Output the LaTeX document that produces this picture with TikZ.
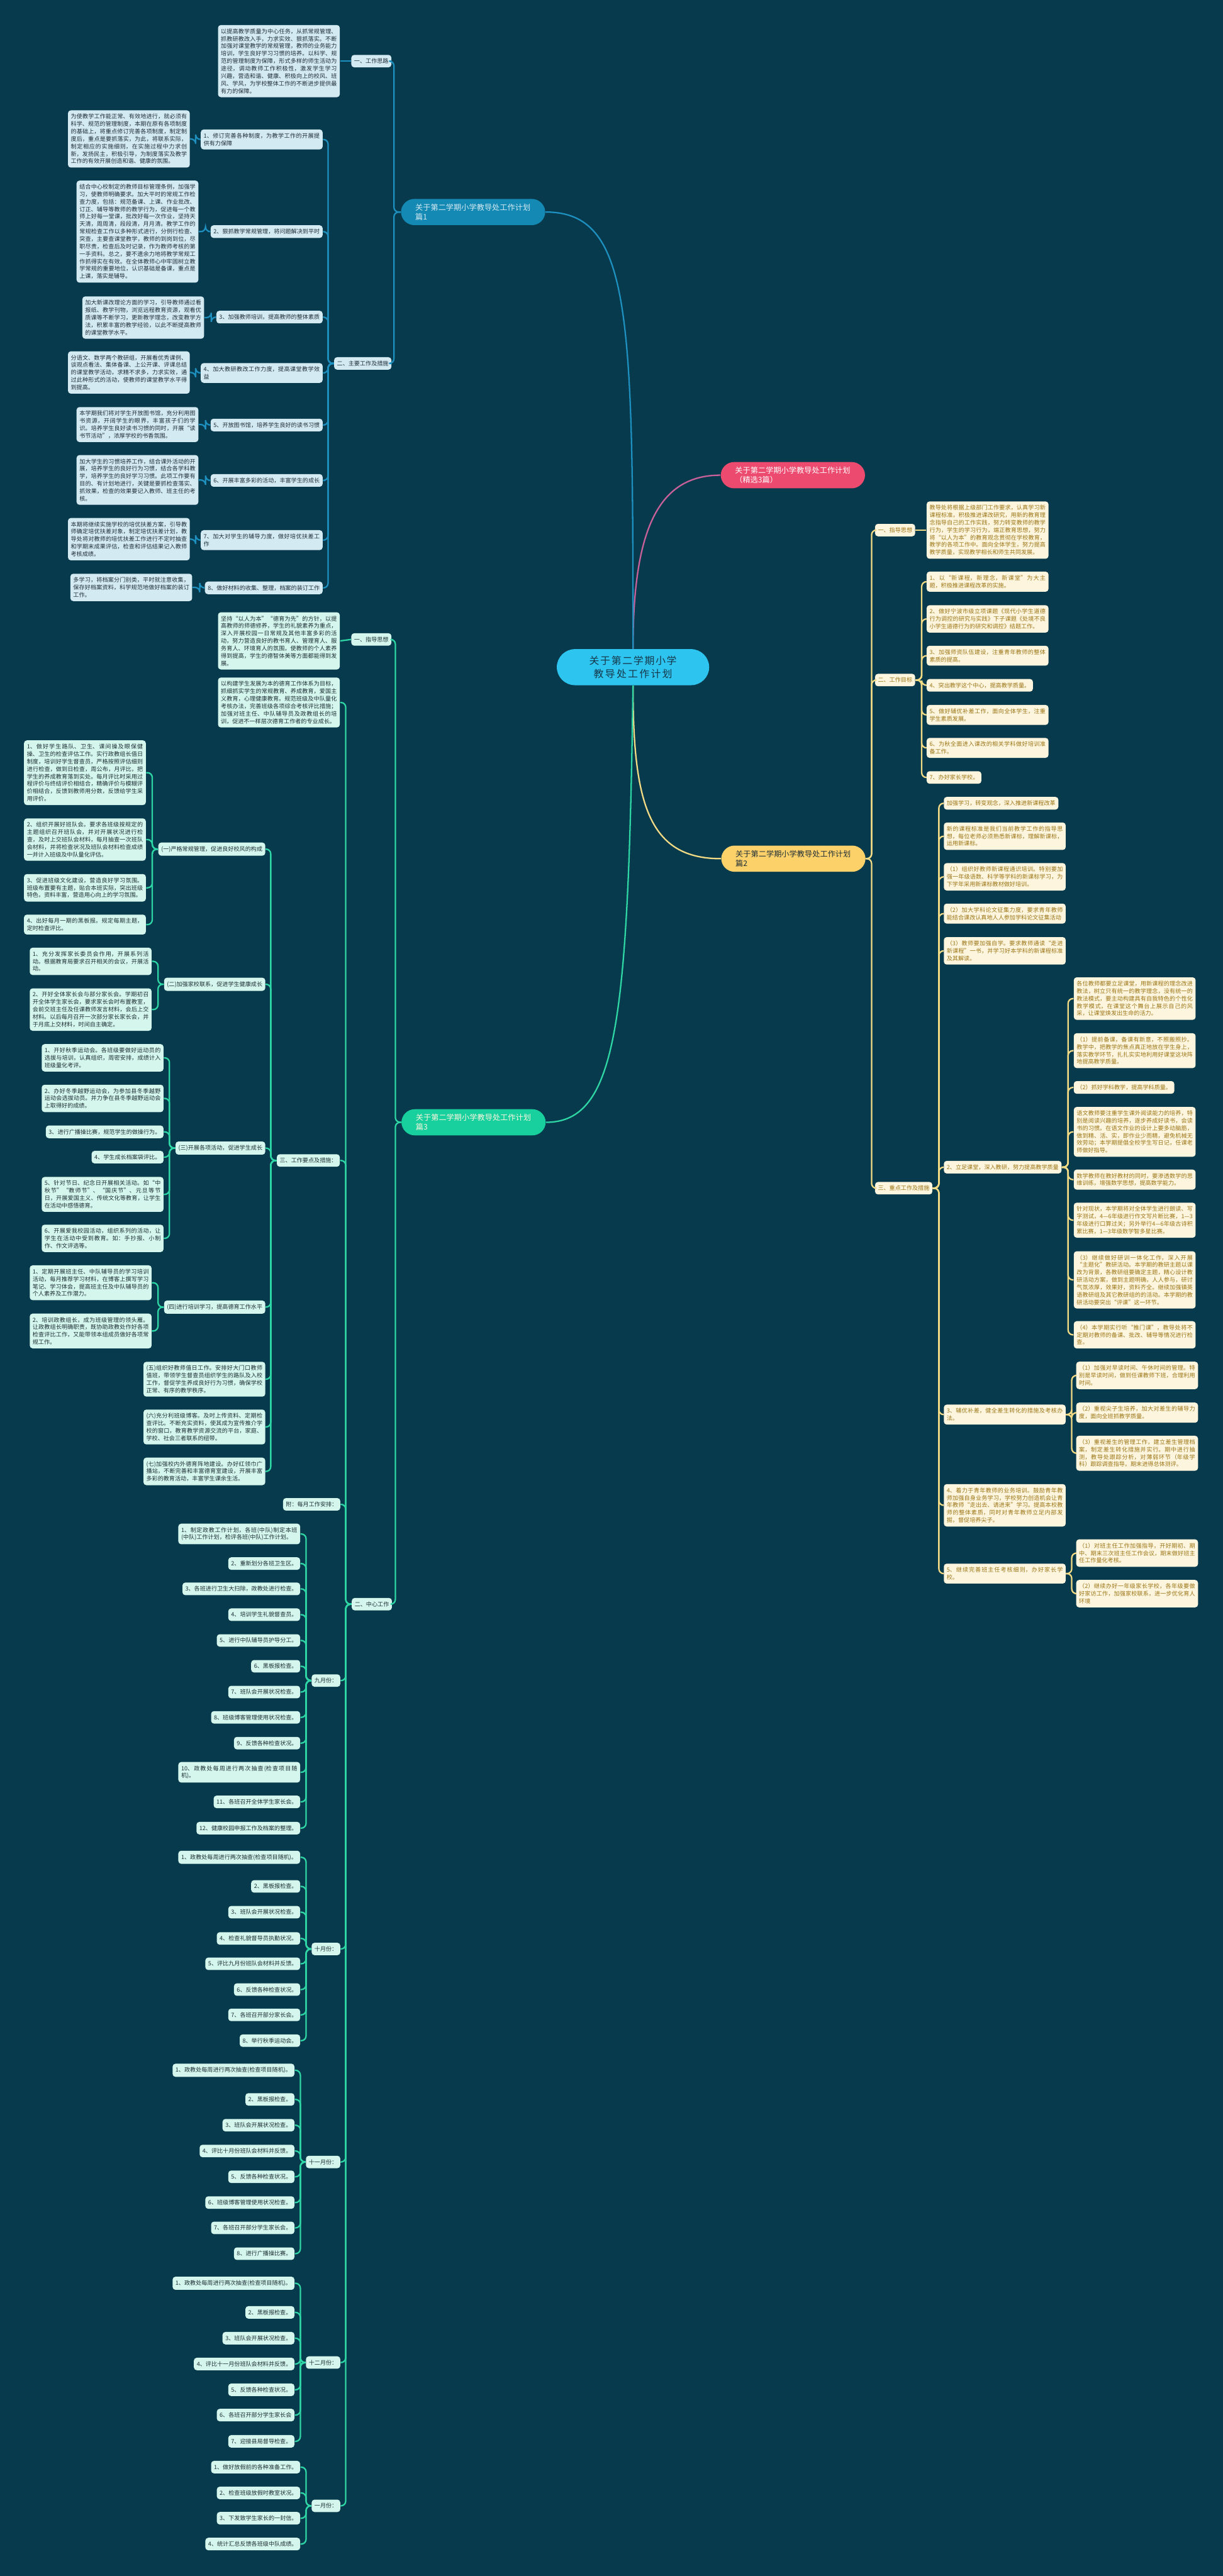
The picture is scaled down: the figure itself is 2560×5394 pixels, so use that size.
\documentclass[tikz,border=0pt]{standalone}
\usepackage{fontspec}
\setmainfont{Noto Sans CJK SC}
\XeTeXlinebreaklocale "zh"
\XeTeXlinebreakskip = 0pt plus 1pt

\definecolor{bgc}{HTML}{073A4C}
\definecolor{rootc}{HTML}{2EC4F0}
\definecolor{roottxt}{HTML}{17384A}
\definecolor{pinkc}{HTML}{EC4A6E}
\definecolor{pinkline}{HTML}{C8609A}
\definecolor{bluec}{HTML}{1489B4}
\definecolor{blueline}{HTML}{1E90BF}
\definecolor{bluebox}{HTML}{D4EAF2}
\definecolor{yelc}{HTML}{FDD16A}
\definecolor{yelline}{HTML}{F3DB85}
\definecolor{yelbox}{HTML}{FDF5DE}
\definecolor{yeltxt}{HTML}{9C7616}
\definecolor{grnc}{HTML}{17D09E}
\definecolor{grnline}{HTML}{2ED6A5}
\definecolor{grnbox}{HTML}{D4F6EC}
\definecolor{boxtxt}{HTML}{1E2E36}

\newcommand\fsmall{\fontsize{3.41pt}{4.44pt}\selectfont}
\newcommand\fmid{\fontsize{4.55pt}{5.69pt}\selectfont}
\newcommand\fbig{\fontsize{5.97pt}{7.97pt}\selectfont}

\tikzset{
  leafbox/.style={rounded corners=0.6mm, inner xsep=0.6mm, inner ysep=0.75mm, font=\fsmall, text=boxtxt},
  para/.style={text width=24.3mm, align=justify},
  bbox/.style={leafbox, fill=bluebox},
  ybox/.style={leafbox, fill=yelbox, text=yeltxt},
  gbox/.style={leafbox, fill=grnbox},
  topic/.style={rounded corners=2.8mm, text width=24.2mm, inner xsep=3mm, inner ysep=1mm, font=\fmid, align=left},
  lnk/.style={draw=#1, line width=0.3mm, rounded corners=1mm},
}

\begin{document}
\begin{tikzpicture}[x=0.1mm,y=-0.1mm]
  \useasboundingbox (0,0) rectangle (2560,5394);
  \fill[bgc] (0,0) rectangle (2560,5394);

  % centre and the four topics
  \node[fill=rootc, text=roottxt, rounded corners=3.8mm, text width=23.5mm, inner xsep=4.2mm, inner ysep=1.4mm, align=center, font=\fbig] (root) at (1325,1397) {关于第二学期小学教导处工作计划};
  \node[topic, fill=pinkc, text=white, anchor=west] (pink) at (1508,995) {关于第二学期小学教导处工作计划（精选3篇）};
  \node[topic, fill=bluec, text=bluebox, anchor=east] (p1) at (1142,444) {关于第二学期小学教导处工作计划篇1};
  \node[topic, fill=yelc, text=boxtxt, anchor=west] (p2) at (1509,1798) {关于第二学期小学教导处工作计划篇2};
  \node[topic, fill=grnc, text=yelbox, anchor=east] (p3) at (1143,2350) {关于第二学期小学教导处工作计划篇3};

  \draw[lnk=pinkline] (root.north) .. controls +(0,-250) and +(-130,0) .. (pink.west);
  \draw[lnk=blueline] (root.north) .. controls +(0,-700) and +(180,0) .. (p1.east);
  \draw[lnk=yelline] (root.south) .. controls +(0,250) and +(-150,0) .. (p2.west);
  \draw[lnk=grnline] (root.south) .. controls +(-10,700) and +(150,0) .. (p3.east);

  % ---------- 篇1 ----------
  \node[bbox, anchor=east] (a1) at (820,128) {一、工作思路};
  \node[bbox, para, anchor=east] (a1t) at (712,128) {以提高教学质量为中心任务，从抓常规管理、抓教研教改入手，力求实效、狠抓落实。不断加强对课堂教学的常规管理，教师的业务能力培训，学生良好学习习惯的培养。以科学、规范的管理制度为保障，形式多样的师生活动为途径，调动教师工作积极性，激发学生学习兴趣，营造和谐、健康、积极向上的校风、班风、学风，为学校整体工作的不断进步提供最有力的保障。};
  \node[bbox, anchor=east] (a2) at (820,761) {二、主要工作及措施};

  \node[bbox, para, anchor=east] (b1) at (676,292) {1、修订完善各种制度，为教学工作的开展提供有力保障};
  \node[bbox, anchor=east] (b2) at (676,485) {2、狠抓教学常规管理，将问题解决到平时};
  \node[bbox, anchor=east] (b3) at (676,664) {3、加强教师培训，提高教师的整体素质};
  \node[bbox, para, anchor=east] (b4) at (676,781) {4、加大教研教改工作力度，提高课堂教学效益};
  \node[bbox, anchor=east] (b5) at (676,890) {5、开放图书馆，培养学生良好的读书习惯};
  \node[bbox, anchor=east] (b6) at (676,1006) {6、开展丰富多彩的活动，丰富学生的成长};
  \node[bbox, para, anchor=east] (b7) at (676,1131) {7、加大对学生的辅导力度，做好培优扶差工作};
  \node[bbox, anchor=east] (b8) at (676,1231) {8、做好材料的收集、整理，档案的装订工作};

  \node[bbox, para, anchor=east] (t1) at (398,291) {为使教学工作能正常、有效地进行，就必须有科学、规范的管理制度，本期在原有各项制度的基础上，将重点修订完善各项制度，制定制度后，重点是要抓落实，为此，将联系实际，制定相应的实施细则，在实施过程中力求创新，发扬民主，积极引导，为制度落实及教学工作的有效开展创造和谐、健康的氛围。};
  \node[bbox, para, anchor=east] (t2) at (416,485) {结合中心校制定的教师目标管理条例，加强学习，使教师明确要求。加大平时的常规工作检查力度，包括：规范备课、上课、作业批改、订正、辅导等教师的教学行为，促进每一个教师上好每一堂课，批改好每一次作业，坚持天天清，周周清，段段清，月月清。教学工作的常规检查工作以多种形式进行，分例行检查、突查，主要查课堂教学，教师的到岗到位，尽职尽责，检查后及时记录，作为教师考核的第一手资料。总之，要不遗余力地将教学常规工作抓得实在有效。在全体教师心中牢固树立教学常规的重要地位，认识基础是备课，重点是上课，落实是辅导。};
  \node[bbox, para, anchor=east] (t3) at (428,665) {加大新课改理论方面的学习，引导教师通过看报纸、教学刊物，浏览远程教育资源，观看优质课等不断学习，更新教学理念，改变教学方法，积累丰富的教学经验，以此不断提高教师的课堂教学水平。};
  \node[bbox, para, anchor=east] (t4) at (398,780) {分语文、数学两个教研组，开展看优秀课例、谈观点看法、集体备课、上公开课、评课总结的课堂教学活动，求精不求多，力求实效，通过此种形式的活动，使教师的课堂教学水平得到提高。};
  \node[bbox, para, anchor=east] (t5) at (416,889) {本学期我们将对学生开放图书馆，充分利用图书资源，开阔学生的眼界，丰富孩子们的学识。培养学生良好读书习惯的同时，开展“读书节活动”，浓厚学校的书香氛围。};
  \node[bbox, para, anchor=east] (t6) at (416,1005) {加大学生的习惯培养工作，结合课外活动的开展，培养学生的良好行为习惯，结合各学科教学，培养学生的良好学习习惯。此项工作要有目的、有计划地进行，关键是要抓检查落实、抓效果，检查的效果要记入教师、班主任的考核。};
  \node[bbox, para, anchor=east] (t7) at (398,1129) {本期将继续实施学校的培优扶差方案，引导教师确定培优扶差对象，制定培优扶差计划，教导处将对教师的培优扶差工作进行不定时抽查和学期末成果评估，检查和评估结果记入教师考核成绩。};
  \node[bbox, para, anchor=east] (t8) at (403,1230) {多学习，将档案分门别类，平时就注意收集，保存好档案资料，科学规范地做好档案的装订工作。};

  \foreach \n in {a1,a2}
    \draw[lnk=blueline] (p1.west) -- ++(-14,0) |- (\n.east);
  \draw[lnk=blueline] (a1.west) -- (a1t.east);
  \foreach \i in {1,...,8} {
    \draw[lnk=blueline] (a2.west) -- ++(-12,0) |- (b\i.east);
    \draw[lnk=blueline] (b\i.west) -- ++(-10,0) |- (t\i.east);
  }

  % ---------- 篇2 ----------
  \node[ybox, anchor=west] (c1) at (1831,1110) {一、指导思想};
  \node[ybox, para, anchor=west] (c1t) at (1939,1110) {教导处将根据上级部门工作要求，认真学习新课程标准，积极推进课改研究，用新的教育理念指导自己的工作实践，努力转变教师的教学行为，学生的学习行为，端正教育思想，努力将“以人为本”的教育观念贯彻在学校教育，教学的各项工作中。面向全体学生，努力提高教学质量，实现教学相长和师生共同发展。};
  \node[ybox, anchor=west] (c2) at (1831,1424) {二、工作目标};
  \node[ybox, anchor=west] (c3) at (1831,2488) {三、重点工作及措施};

  \node[ybox, para, anchor=west] (d1) at (1939,1218) {1、以“新课程，新理念，新课堂”为大主题，积极推进课程改革的实施。};
  \node[ybox, para, anchor=west] (d2) at (1939,1296) {2、做好宁波市级立项课题《现代小学生道德行为调控的研究与实践》下子课题《处境不良小学生道德行为的研究和调控》结题工作。};
  \node[ybox, para, anchor=west] (d3) at (1939,1373) {3、加强师资队伍建设，注重青年教师的整体素质的提高。};
  \node[ybox, anchor=west] (d4) at (1939,1435) {4、突出教学这个中心，提高教学质量。};
  \node[ybox, para, anchor=west] (d5) at (1939,1497) {5、做好辅优补差工作，面向全体学生，注重学生素质发展。};
  \node[ybox, para, anchor=west] (d6) at (1939,1566) {6、为秋全面进入课改的相关学科做好培训准备工作。};
  \node[ybox, anchor=west] (d7) at (1939,1628) {7、办好家长学校。};

  \node[ybox, anchor=west] (e1) at (1975,1682) {加强学习，转变观念，深入推进新课程改革};
  \node[ybox, para, anchor=west] (e2) at (1975,1751) {新的课程标准是我们当前教学工作的指导思想，每位老师必须熟悉新课标，理解新课标，运用新课标。};
  \node[ybox, para, anchor=west] (e3) at (1975,1836) {（1）组织好教师新课程通识培训。特别要加强一年级语数、科学等学科的新课标学习，为下学年采用新课标教材做好培训。};
  \node[ybox, para, anchor=west] (e4) at (1975,1913) {（2）加大学科论文征集力度，要求青年教师能结合课改认真地人人参加学科论文征集活动};
  \node[ybox, para, anchor=west] (e5) at (1975,1991) {（3）教师要加强自学。要求教师通读“走进新课程”一书，并学习好本学科的新课程标准及其解读。};
  \node[ybox, anchor=west] (e6) at (1975,2444) {2、立足课堂，深入教研，努力提高教学质量};
  \node[ybox, para, anchor=west] (e7) at (1975,2962) {3、辅优补差，健全差生转化的措施及考核办法。};
  \node[ybox, para, anchor=west] (e8) at (1975,3152) {4、着力于青年教师的业务培训。鼓励青年教师加强自身业务学习，学校努力创造机会让青年教师“走出去、请进来”学习。提高本校教师的整体素质，同时对青年教师立足内部发掘，督促培养尖子。};
  \node[ybox, para, anchor=west] (e9) at (1975,3295) {5、继续完善班主任考核细则，办好家长学校。};

  \node[ybox, para, anchor=west] (f1) at (2247,2091) {各位教师都要立足课堂，用新课程的理念改进教法，树立只有统一的教学理念，没有统一的教法模式，要主动构建具有自我特色的个性化教学模式，在课堂这个舞台上展示自己的风采，让课堂焕发出生命的活力。};
  \node[ybox, para, anchor=west] (f2) at (2247,2200) {（1）提前备课，备课有新意，不照搬照抄。教学中，把教学的焦点真正地放在学生身上，落实教学环节，扎扎实实地利用好课堂这块阵地提高教学质量。};
  \node[ybox, anchor=west] (f3) at (2247,2277) {（2）抓好学科教学，提高学科质量。};
  \node[ybox, para, anchor=west] (f4) at (2247,2370) {语文教师要注重学生课外阅读能力的培养，特别是阅读兴趣的培养，逐步养成好读书，会读书的习惯。在语文作业的设计上要多动脑筋，做到精、活、实，即作业少而精，避免机械无效劳动；本学期提倡全校学生写日记，任课老师做好指导。};
  \node[ybox, para, anchor=west] (f5) at (2247,2470) {数学教师在教好教材的同时，要渗透数学的思维训练，增强数学思想，提高数学能力。};
  \node[ybox, para, anchor=west] (f6) at (2247,2555) {针对现状，本学期将对全体学生进行朗读、写字测试，4—6年级进行作文写片断比赛，1—3年级进行口算过关；另外举行4—6年级古诗积累比赛，1—3年级数学智多星比赛。};
  \node[ybox, para, anchor=west] (f7) at (2247,2680) {（3）继续做好研训一体化工作，深入开展“主题化”教研活动。本学期的教研主题以课改为背景，各教研组要确定主题，精心设计教研活动方案，做到主题明确，人人参与，研讨气氛浓厚，效果好，资料齐全。继续加强镇英语教研组及其它教研组的的活动。本学期的教研活动要突出“评课”这一环节。};
  \node[ybox, para, anchor=west] (f8) at (2247,2795) {（4）本学期实行听“推门课”，教导处将不定期对教师的备课、批改、辅导等情况进行检查。};

  \node[ybox, para, anchor=west] (g1) at (2252,2880) {（1）加强对早读时间、午休时间的管理。特别是早读时间，做到任课教师下班，合理利用时间。};
  \node[ybox, para, anchor=west] (g2) at (2252,2958) {（2）重视尖子生培养，加大对差生的辅导力度，面向全班抓教学质量。};
  \node[ybox, para, anchor=west] (g3) at (2252,3043) {（3）重视差生的管理工作，建立差生管理档案，制定差生转化措施并实行。期中进行抽测，教导处跟踪分析，对薄弱环节（年级学科）跟踪调查指导。期末进得总体测评。};
  \node[ybox, para, anchor=west] (h1) at (2252,3252) {（1）对班主任工作加强指导，开好期初、期中、期末三次班主任工作会议，期末做好班主任工作量化考核。};
  \node[ybox, para, anchor=west] (h2) at (2252,3337) {（2）继续办好一年级家长学校，各年级要做好家访工作，加强家校联系，进一步优化育人环境};

  \foreach \n in {c1,c2,c3}
    \draw[lnk=yelline] (p2.east) -- ++(12,0) |- (\n.west);
  \draw[lnk=yelline] (c1.east) -- (c1t.west);
  \foreach \i in {1,...,7}
    \draw[lnk=yelline] (c2.east) -- ++(13,0) |- (d\i.west);
  \foreach \i in {1,...,9}
    \draw[lnk=yelline] (c3.east) -- ++(13,0) |- (e\i.west);
  \foreach \i in {1,...,8}
    \draw[lnk=yelline] (e6.east) -- ++(13,0) |- (f\i.west);
  \foreach \i in {1,2,3}
    \draw[lnk=yelline] (e7.east) -- ++(12,0) |- (g\i.west);
  \foreach \i in {1,2}
    \draw[lnk=yelline] (e9.east) -- ++(12,0) |- (h\i.west);

  % ---------- 篇3 ----------
  \node[gbox, anchor=east] (s1) at (820,1339) {一、指导思想};
  \node[gbox, para, anchor=east] (s1t) at (712,1342) {坚持“以人为本”“德育为先”的方针，以提高教师的师德修养，学生的礼貌素养为重点，深入开展校园一日常规及其他丰富多彩的活动，努力营造良好的教书育人、管理育人、服务育人、环境育人的氛围，使教师的个人素养得到提高，学生的德智体美等方面都能得到发展。};
  \node[gbox, anchor=east] (s2) at (821,3359) {二、中心工作};

  \node[gbox, para, anchor=east] (k0) at (712,1471) {以构建学生发展为本的德育工作体系为目标，抓细抓实学生的常规教育、养成教育，爱国主义教育，心理健康教育。规范班级及中队量化考核办法，完善班级各项综合考核评比措施；加强对班主任、中队辅导员及政教组长的培训，促进不一样层次德育工作者的专业成长。};
  \node[gbox, anchor=east] (k1) at (712,2430) {三、工作要点及措施：};
  \node[gbox, anchor=east] (k2) at (713,3150) {附：每月工作安排：};
  \node[gbox, anchor=east] (k3) at (713,3519) {九月份：};
  \node[gbox, anchor=east] (k4) at (713,4081) {十月份：};
  \node[gbox, anchor=east] (k5) at (713,4527) {十一月份：};
  \node[gbox, anchor=east] (k6) at (713,4947) {十二月份：};
  \node[gbox, anchor=east] (k7) at (713,5247) {一月份：};

  \node[gbox, anchor=east] (m1) at (556,1778) {(一)严格常规管理，促进良好校风的构成};
  \node[gbox, anchor=east] (m2) at (556,2061) {(二)加强家校联系，促进学生健康成长};
  \node[gbox, anchor=east] (m3) at (556,2404) {(三)开展各项活动，促进学生成长};
  \node[gbox, anchor=east] (m4) at (556,2737) {(四)进行培训学习，提高德育工作水平};
  \node[gbox, para, anchor=east] (m5) at (556,2888) {(五)组织好教师值日工作。安排好大门口教师值班，带领学生督查员组织学生的路队及入校工作，督促学生养成良好行为习惯，确保学校正常、有序的教学秩序。};
  \node[gbox, para, anchor=east] (m6) at (556,2988) {(六)充分利班级博客。及时上传资料、定期检查评比。不断充实资料，使其成为宣传推介学校的窗口，教育教学资源交流的平台，家庭、学校、社会三者联系的纽带。};
  \node[gbox, para, anchor=east] (m7) at (556,3081) {(七)加强校内外德育阵地建设。办好红领巾广播站，不断完善和丰富德育室建设，开展丰富多彩的教育活动，丰富学生课余生活。};

  \node[gbox, para, anchor=east] (m1a) at (306,1618) {1、做好学生路队、卫生、课间操及眼保健操、卫生的检查评估工作。实行政教组长值日制度，培训好学生督查员，严格按照评估细则进行检查，做到日检查，周公布，月评比，把学生的养成教育落到实处。每月评比时采用过程评价与终结评价相结合，精确评价与模糊评价相结合，反馈到教师用分数，反馈给学生采用评价。};
  \node[gbox, para, anchor=east] (m1b) at (306,1758) {2、组织开展好班队会。要求各班级按规定的主题组织召开班队会，并对开展状况进行检查，及时上交班队会材料，每月抽查一次班队会材料，并将检查状况及班队会材料检查成绩一并计入班级及中队量化评估。};
  \node[gbox, para, anchor=east] (m1c) at (306,1859) {3、促进班级文化建设，营造良好学习氛围。班级布置要有主题，贴合本班实际，突出班级特色，资料丰富，营造用心向上的学习氛围。};
  \node[gbox, para, anchor=east] (m1d) at (306,1936) {4、出好每月一期的黑板报。规定每期主题，定时检查评比。};

  \node[gbox, para, anchor=east] (m2a) at (318,2013) {1、充分发挥家长委员会作用，开展系列活动。根据教育局要求召开相关的会议，开展活动。};
  \node[gbox, para, anchor=east] (m2b) at (318,2114) {2、开好全体家长会与部分家长会。学期初召开全体学生家长会，要求家长会时布置教室，会前交班主任及任课教师发言材料，会后上交材料。以后每月召开一次部分家长家长会，并于月底上交材料，时间自主确定。};

  \node[gbox, para, anchor=east] (m3a) at (343,2215) {1、开好秋季运动会。各班级要做好运动员的选拔与培训，认真组织，周密安排，成绩计入班级量化考评。};
  \node[gbox, para, anchor=east] (m3b) at (343,2300) {2、办好冬季越野运动会，为参加县冬季越野运动会选拔动员。并力争在县冬季越野运动会上取得好的成绩。};
  \node[gbox, anchor=east] (m3c) at (343,2370) {3、进行广播操比赛，规范学生的做操行为。};
  \node[gbox, anchor=east] (m3d) at (343,2423) {4、学生成长档案袋评比。};
  \node[gbox, para, anchor=east] (m3e) at (343,2501) {5、针对节日、纪念日开展相关活动。如“中秋节”“教师节”、“国庆节”、元旦等节日，开展爱国主义、传统文化等教育，让学生在活动中感悟德育。};
  \node[gbox, para, anchor=east] (m3f) at (343,2593) {6、开展爱我校园活动，组织系列的活动，让学生在活动中受到教育。如：手抄报、小制作、作文评选等。};

  \node[gbox, para, anchor=east] (m4a) at (318,2686) {1、定期开展班主任、中队辅导员的学习培训活动，每月推荐学习材料，在博客上撰写学习笔记、学习体会，提高班主任及中队辅导员的个人素养及工作潜力。};
  \node[gbox, para, anchor=east] (m4b) at (318,2787) {2、培训政教组长，成为班级管理的领头雁。让政教组长明确职责，既协助政教处作好各项检查评比工作，又能带领本组成员做好各项常规工作。};

  % 九月份
  \node[gbox, para, anchor=east] (sep1) at (629,3212) {1、制定政教工作计划，各班(中队)制定本班(中队)工作计划，检评各班(中队)工作计划。};
  \node[gbox, anchor=east] (sep2) at (629,3274) {2、重新划分各班卫生区。};
  \node[gbox, anchor=east] (sep3) at (629,3327) {3、各班进行卫生大扫除，政教处进行检查。};
  \node[gbox, anchor=east] (sep4) at (629,3381) {4、培训学生礼貌督查员。};
  \node[gbox, anchor=east] (sep5) at (629,3435) {5、进行中队辅导员护导分工。};
  \node[gbox, anchor=east] (sep6) at (629,3489) {6、黑板报检查。};
  \node[gbox, anchor=east] (sep7) at (629,3543) {7、班队会开展状况检查。};
  \node[gbox, anchor=east] (sep8) at (629,3596) {8、班级博客管理使用状况检查。};
  \node[gbox, anchor=east] (sep9) at (629,3650) {9、反馈各种检查状况。};
  \node[gbox, para, anchor=east] (sep10) at (629,3711) {10、政教处每周进行两次抽查(检查项目随机)。};
  \node[gbox, anchor=east] (sep11) at (629,3773) {11、各班召开全体学生家长会。};
  \node[gbox, anchor=east] (sep12) at (629,3828) {12、健康校园申报工作及档案的整理。};

  % 十月份
  \node[gbox, para, anchor=east] (oct1) at (629,3889) {1、政教处每周进行两次抽查(检查项目随机)。};
  \node[gbox, anchor=east] (oct2) at (629,3950) {2、黑板报检查。};
  \node[gbox, anchor=east] (oct3) at (629,4004) {3、班队会开展状况检查。};
  \node[gbox, anchor=east] (oct4) at (629,4059) {4、检查礼貌督导员执勤状况。};
  \node[gbox, anchor=east] (oct5) at (629,4112) {5、评比九月份班队会材料并反馈。};
  \node[gbox, anchor=east] (oct6) at (629,4166) {6、反馈各种检查状况。};
  \node[gbox, anchor=east] (oct7) at (629,4219) {7、各班召开部分家长会。};
  \node[gbox, anchor=east] (oct8) at (629,4273) {8、举行秋季运动会。};

  % 十一月份
  \node[gbox, para, anchor=east] (nov1) at (617,4335) {1、政教处每周进行两次抽查(检查项目随机)。};
  \node[gbox, anchor=east] (nov2) at (617,4396) {2、黑板报检查。};
  \node[gbox, anchor=east] (nov3) at (617,4450) {3、班队会开展状况检查。};
  \node[gbox, anchor=east] (nov4) at (617,4504) {4、评比十月份班队会材料并反馈。};
  \node[gbox, anchor=east] (nov5) at (617,4558) {5、反馈各种检查状况。};
  \node[gbox, anchor=east] (nov6) at (617,4612) {6、班级博客管理使用状况检查。};
  \node[gbox, anchor=east] (nov7) at (617,4665) {7、各班召开部分学生家长会。};
  \node[gbox, anchor=east] (nov8) at (617,4719) {8、进行广播操比赛。};

  % 十二月份
  \node[gbox, para, anchor=east] (dec1) at (617,4781) {1、政教处每周进行两次抽查(检查项目随机)。};
  \node[gbox, anchor=east] (dec2) at (617,4842) {2、黑板报检查。};
  \node[gbox, anchor=east] (dec3) at (617,4896) {3、班队会开展状况检查。};
  \node[gbox, anchor=east] (dec4) at (617,4950) {4、评比十一月份班队会材料并反馈。};
  \node[gbox, anchor=east] (dec5) at (617,5004) {5、反馈各种检查状况。};
  \node[gbox, anchor=east] (dec6) at (617,5057) {6、各班召开部分学生家长会};
  \node[gbox, anchor=east] (dec7) at (617,5112) {7、迎接县局督导检查。};

  % 一月份
  \node[gbox, anchor=east] (jan1) at (629,5166) {1、做好放假前的各种准备工作。};
  \node[gbox, anchor=east] (jan2) at (629,5220) {2、检查班级放假时教室状况。};
  \node[gbox, anchor=east] (jan3) at (629,5273) {3、下发致学生家长的一封信。};
  \node[gbox, anchor=east] (jan4) at (629,5327) {4、统计汇总反馈各班级中队成绩。};

  \foreach \n in {s1,s2}
    \draw[lnk=grnline] (p3.west) -- ++(-12,0) |- (\n.east);
  \draw[lnk=grnline] (s1.west) -- (s1t.east);
  \foreach \i in {0,...,7}
    \draw[lnk=grnline] (s2.west) -- ++(-12,0) |- (k\i.east);
  \foreach \i in {1,...,7}
    \draw[lnk=grnline] (k1.west) -- ++(-12,0) |- (m\i.east);
  \foreach \n in {a,b,c,d}
    \draw[lnk=grnline] (m1.west) -- ++(-12,0) |- (m1\n.east);
  \foreach \n in {a,b}
    \draw[lnk=grnline] (m2.west) -- ++(-12,0) |- (m2\n.east);
  \foreach \n in {a,b,c,d,e,f}
    \draw[lnk=grnline] (m3.west) -- ++(-12,0) |- (m3\n.east);
  \foreach \n in {a,b}
    \draw[lnk=grnline] (m4.west) -- ++(-12,0) |- (m4\n.east);
  \foreach \i in {1,...,12}
    \draw[lnk=grnline] (k3.west) -- ++(-11,0) |- (sep\i.east);
  \foreach \i in {1,...,8}
    \draw[lnk=grnline] (k4.west) -- ++(-11,0) |- (oct\i.east);
  \foreach \i in {1,...,8}
    \draw[lnk=grnline] (k5.west) -- ++(-11,0) |- (nov\i.east);
  \foreach \i in {1,...,7}
    \draw[lnk=grnline] (k6.west) -- ++(-11,0) |- (dec\i.east);
  \foreach \i in {1,...,4}
    \draw[lnk=grnline] (k7.west) -- ++(-11,0) |- (jan\i.east);
\end{tikzpicture}
\end{document}
